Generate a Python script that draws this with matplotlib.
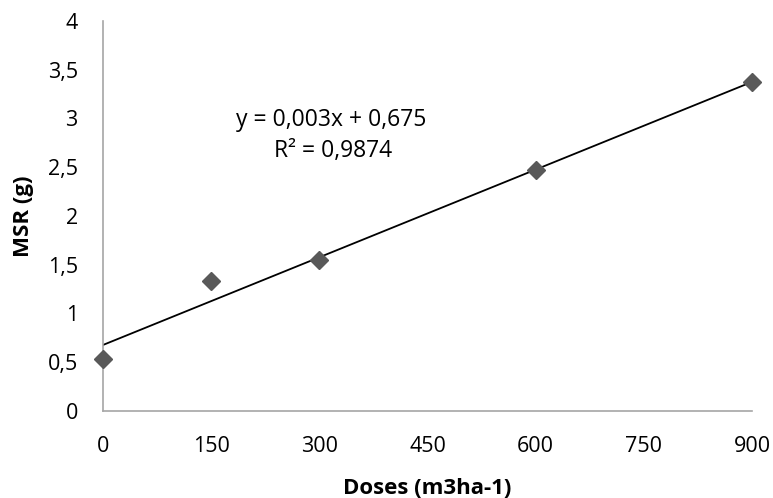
import numpy as np
import matplotlib
matplotlib.use('Agg')
import matplotlib.pyplot as plt

plt.rcParams['font.family'] = ['Open Sans', 'DejaVu Sans']

# Données
doses = [0, 150, 300, 600, 900]
msr = [0.53, 1.33, 1.55, 2.47, 3.37]
x_ticks = [0, 150, 300, 450, 600, 750, 900]
y_ticks = [0, 0.5, 1, 1.5, 2, 2.5, 3, 3.5, 4]

# Droite de tendance (valeurs affichées)
pente = 0.003
ordonnee = 0.675

fig = plt.figure(figsize=(7.73, 4.98), dpi=100)
ax = fig.add_axes([0.133, 0.175, 0.84, 0.783])

xs = np.array([doses[0], doses[-1]])
ax.plot(xs, pente * xs + ordonnee, color='black', linewidth=1.3, zorder=2)
ax.plot(doses, msr, linestyle='none', marker='D', markersize=9,
        color='#595959', zorder=3, clip_on=False)

ax.set_xlim(0, 900)
ax.set_ylim(0, 4)
ax.set_xticks(x_ticks)
ax.set_yticks(y_ticks)
ax.set_yticklabels([f'{v:g}'.replace('.', ',') for v in y_ticks])
ax.tick_params(length=0, labelsize=15.5, colors='black')
ax.tick_params(axis='x', pad=18)
ax.tick_params(axis='y', pad=18)

for s in ['top', 'right']:
    ax.spines[s].set_visible(False)
for s in ['left', 'bottom']:
    ax.spines[s].set_color('#a6a6a6')
    ax.spines[s].set_linewidth(1.2)

# étiquette de la courbe de tendance
ax.text(317, 2.98, 'y = 0,003x + 0,675', fontsize=16.5, ha='center', va='center')
ax.text(319, 2.67, 'R² = 0,9874', fontsize=16.5, ha='center', va='center')

ax.set_xlabel('Doses (m3ha-1)', fontsize=16, fontweight='bold', labelpad=15)
ax.set_ylabel('MSR (g)', fontsize=16, fontweight='bold', labelpad=10)

plt.savefig('out.png', dpi=100)
